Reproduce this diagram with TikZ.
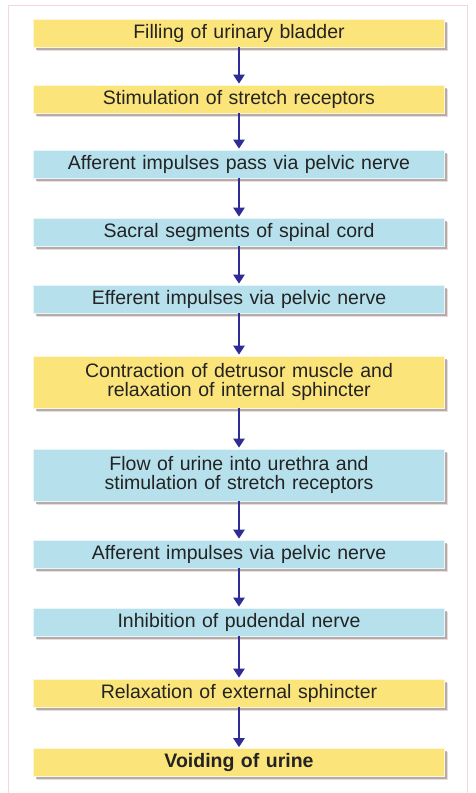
\documentclass[tikz,border=0pt]{standalone}
\usepackage{fontspec}
\setmainfont{Liberation Sans}
\usetikzlibrary{arrows.meta,shadows}
\definecolor{boxyellow}{RGB}{251,228,122}
\definecolor{boxblue}{RGB}{182,224,236}
\definecolor{arrowblue}{RGB}{48,44,150}
\definecolor{shadowc}{RGB}{150,128,128}
\definecolor{framec}{RGB}{246,214,214}
\definecolor{textc}{RGB}{35,35,35}
\begin{document}
\begin{tikzpicture}[x=1pt,y=-1pt,
  stepbox/.style={minimum width=411pt, text width=405pt, align=center, inner sep=0pt,
    font=\fontsize{19.5}{18.5}\selectfont, text=textc, draw=white!70!#1, line width=0.6pt, fill=#1,
    drop shadow={shadow xshift=3.5pt, shadow yshift=-3.5pt, fill=shadowc, opacity=0.25},
    drop shadow={shadow xshift=2.5pt, shadow yshift=-2.5pt, fill=shadowc, opacity=0.55}},
  onebox/.style={stepbox=#1, minimum height=28pt},
  twobox/.style={stepbox=#1, minimum height=52pt},
  arr/.style={draw=arrowblue, line width=2.2pt, -{Triangle[width=11pt,length=9pt]}, shorten >=1pt}]
\useasboundingbox[fill=white] (0,0) rectangle (475,793);
\draw[framec, line width=0.8pt] (8,793) -- (8,5) -- (467,5) -- (467,793);
\node[onebox=boxyellow] (n1) at (239,33) {Filling of urinary bladder};
\node[onebox=boxyellow] (n2) at (239,99) {Stimulation of stretch receptors};
\node[onebox=boxblue] (n3) at (239,164) {Afferent impulses pass via pelvic nerve};
\node[onebox=boxblue] (n4) at (239,232) {Sacral segments of spinal cord};
\node[onebox=boxblue] (n5) at (239,299) {Efferent impulses via pelvic nerve};
\node[twobox=boxyellow] (n6) at (239,382) {Contraction of detrusor muscle and\\relaxation of internal sphincter};
\node[twobox=boxblue] (n7) at (239,475) {Flow of urine into urethra and\\stimulation of stretch receptors};
\node[onebox=boxblue] (n8) at (239,554) {Afferent impulses via pelvic nerve};
\node[onebox=boxblue] (n9) at (239,622) {Inhibition of pudendal nerve};
\node[onebox=boxyellow] (n10) at (239,693) {Relaxation of external sphincter};
\node[onebox=boxyellow] (n11) at (239,762.5) {\bfseries Voiding of urine};
\foreach \a/\b in {n1/n2,n2/n3,n3/n4,n4/n5,n5/n6,n6/n7,n7/n8,n8/n9,n9/n10,n10/n11}
  \draw[arr] (\a.south) -- (\b.north);
\end{tikzpicture}
\end{document}
